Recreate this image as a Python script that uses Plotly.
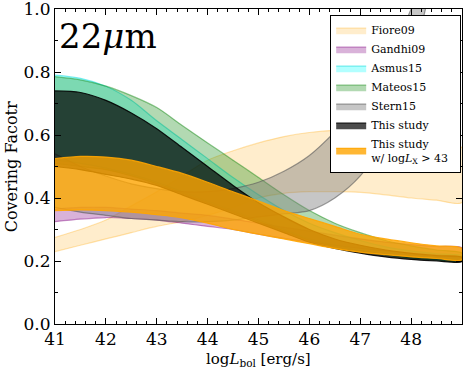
import plotly.graph_objects as go

# luminosity grid (log L_bol)
x = [41, 41.5, 42, 42.5, 43, 43.5, 44, 44.5, 45, 45.5, 46, 46.5, 47, 47.5, 48, 48.5, 49]

fiore_hi = [0.275, 0.30, 0.33, 0.375, 0.42, 0.47, 0.52, 0.55, 0.575, 0.595, 0.608, 0.615, 0.615, 0.607, 0.595, 0.58, 0.56]
fiore_lo = [0.23, 0.25, 0.27, 0.29, 0.31, 0.325, 0.345, 0.37, 0.40, 0.415, 0.42, 0.42, 0.418, 0.41, 0.40, 0.393, 0.386]

gandhi_hi = [0.365, 0.37, 0.37, 0.365, 0.36, 0.352, 0.345, 0.333, 0.32, 0.307, 0.295, 0.282, 0.27, 0.26, 0.252, 0.246, 0.242]
gandhi_lo = [0.325, 0.333, 0.338, 0.335, 0.33, 0.32, 0.31, 0.30, 0.285, 0.272, 0.26, 0.25, 0.24, 0.232, 0.225, 0.22, 0.215]

asmus_hi = [0.79, 0.78, 0.755, 0.71, 0.645, 0.585, 0.525, 0.465, 0.41, 0.36, 0.32, 0.29, 0.265, 0.245, 0.232, 0.223, 0.216]
asmus_lo = [0.52, 0.51, 0.495, 0.475, 0.45, 0.42, 0.39, 0.36, 0.33, 0.30, 0.27, 0.25, 0.233, 0.22, 0.21, 0.204, 0.2]
mateos_hi = [0.785, 0.775, 0.755, 0.725, 0.687, 0.63, 0.575, 0.52, 0.465, 0.41, 0.36, 0.32, 0.29, 0.265, 0.248, 0.235, 0.225]
mateos_lo = [0.51, 0.50, 0.49, 0.47, 0.445, 0.415, 0.385, 0.355, 0.325, 0.295, 0.265, 0.245, 0.23, 0.218, 0.209, 0.203, 0.2]

study_hi = [0.74, 0.735, 0.71, 0.67, 0.62, 0.56, 0.50, 0.44, 0.385, 0.34, 0.30, 0.27, 0.25, 0.235, 0.224, 0.217, 0.212]
study_lo = [0.50, 0.49, 0.475, 0.46, 0.44, 0.41, 0.38, 0.35, 0.32, 0.29, 0.26, 0.24, 0.225, 0.213, 0.205, 0.20, 0.198]

stern_hi = [0.54, 0.50, 0.47, 0.445, 0.43, 0.42, 0.42, 0.43, 0.45, 0.485, 0.535, 0.61, 0.70, 0.83, 1.0, 1.22, 1.5]
stern_lo = [0.37, 0.355, 0.345, 0.335, 0.33, 0.325, 0.325, 0.33, 0.34, 0.35, 0.36, 0.40, 0.47, 0.59, 0.82, 1.15, 1.5]

hx_hi = [0.525, 0.532, 0.53, 0.52, 0.50, 0.478, 0.45, 0.42, 0.39, 0.36, 0.335, 0.31, 0.285, 0.27, 0.258, 0.248, 0.24]
hx_lo = [0.36, 0.362, 0.36, 0.355, 0.347, 0.337, 0.32, 0.30, 0.285, 0.27, 0.255, 0.24, 0.228, 0.22, 0.213, 0.208, 0.204]

x_ticks = [41, 42, 43, 44, 45, 46, 47, 48]
y_ticks = [0.0, 0.2, 0.4, 0.6, 0.8, 1.0]

fig = go.Figure()


def band(name, hi, lo, fill, edge):
    fig.add_trace(go.Scatter(
        x=x + x[::-1], y=hi + lo[::-1],
        fill='toself', fillcolor=fill,
        line=dict(color=edge, width=1.2, shape='spline', smoothing=0.8),
        mode='lines', name=name, hoverinfo='skip'))


band('Fiore09', fiore_hi, fiore_lo, 'rgba(255,165,0,0.2)', 'rgba(255,165,0,0.3)')
band('Gandhi09', gandhi_hi, gandhi_lo, 'rgba(128,0,128,0.3)', 'rgba(128,0,128,0.45)')
band('Asmus15', asmus_hi, asmus_lo, 'rgba(0,255,255,0.3)', 'rgba(0,220,220,0.5)')
band('Mateos15', mateos_hi, mateos_lo, 'rgba(0,128,0,0.3)', 'rgba(0,128,0,0.45)')
band('Stern15', stern_hi, stern_lo, 'rgba(128,128,128,0.45)', 'rgba(90,90,90,0.6)')
band('This study', study_hi, study_lo, 'rgba(0,0,0,0.7)', 'rgba(0,0,0,0.9)')
band('This study<br>w/ log<i>L</i><sub>X</sub> > 43&nbsp;&nbsp;', hx_hi, hx_lo,
     'rgba(255,165,0,0.8)', 'rgba(255,165,0,0.9)')

fig.add_annotation(x=0.005, y=0.985, xref='paper', yref='paper', xanchor='left', yanchor='top',
                   text='22<i>μ</i>m', showarrow=False, font=dict(size=34, color='black'))
fig.add_annotation(x=0.5, y=-0.076, xref='paper', yref='paper', xanchor='center', yanchor='top',
                   text='log<i>L</i><sub>bol</sub> [erg/s]', showarrow=False, font=dict(size=15))
fig.add_annotation(x=-0.106, y=0.5, xref='paper', yref='paper', xanchor='center', yanchor='middle',
                   text='Covering Facotr', textangle=-90, showarrow=False, font=dict(size=16))

axis_common = dict(showline=True, linecolor='black', linewidth=1, mirror='allticks',
                   ticks='inside', ticklen=6, tickcolor='black', showgrid=False, zeroline=False,
                   automargin=False, tickfont=dict(size=17), ticklabeloverflow='allow')

fig.update_layout(
    width=463, height=370,
    margin=dict(l=55, r=1, t=9, b=46),
    plot_bgcolor='white', paper_bgcolor='white',
    font=dict(family='DejaVu Serif', size=16, color='black'),
    xaxis=dict(range=[41, 49], tickvals=x_ticks, ticktext=[str(v) for v in x_ticks],
               minor=dict(dtick=0.2, ticks='inside', ticklen=3, tickcolor='black'),
               **axis_common),
    yaxis=dict(range=[0, 1.0], tickvals=y_ticks, ticktext=['%.1f' % v for v in y_ticks],
               minor=dict(dtick=0.1, ticks='inside', ticklen=3, tickcolor='black'),
               **axis_common),
    legend=dict(x=0.998, y=0.982, xanchor='right', yanchor='top',
                bgcolor='white', bordercolor='black', borderwidth=1,
                font=dict(size=11), tracegroupgap=0, itemwidth=30),
    showlegend=True,
)

fig.write_html("out.html", config={'displayModeBar': False},
               post_script="document.body.style.margin='0';")
